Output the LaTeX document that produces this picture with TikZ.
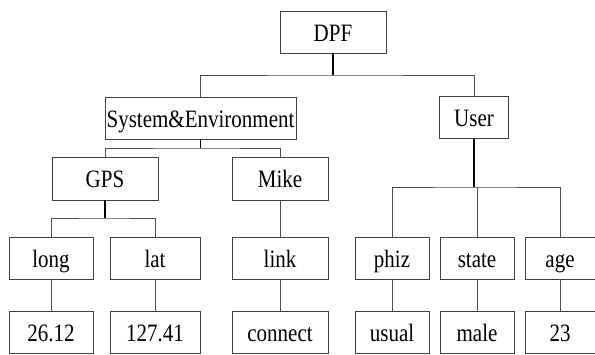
\documentclass[tikz,border=0pt]{standalone}
\usepackage{fontspec}
\setmainfont{Liberation Serif}
\newcommand{\sq}[1]{\scalebox{0.84}[1]{#1}}
\begin{document}
\begin{tikzpicture}[x=1pt,y=-1pt,
  box/.style={draw=black!75,line width=0.8pt,inner sep=0pt,rectangle,
    font=\fontsize{25}{29}\selectfont,text height=21pt,text depth=3pt,
    minimum height=42pt},
  conn/.style={draw=black!70,line width=0.9pt},
  stub/.style={draw=black,line width=1.4pt}]
\useasboundingbox (0,0) rectangle (595,354);
% nodes
\node[box,minimum width=106pt] (dpf) at (333,32) {\sq{DPF}};
\node[box,minimum width=191pt] (sys) at (200.5,118) {\sq{System\&Environment}};
\node[box,minimum width=69pt] (user) at (474,117.5) {\sq{User}};
\node[box,minimum width=106pt,minimum height=43pt] (gps) at (105,178.5) {\sq{GPS}};
\node[box,minimum width=96pt,minimum height=43pt] (mike) at (280,178.5) {\sq{Mike}};
\node[box,minimum width=84pt] (long) at (51,258) {\sq{long}};
\node[box,minimum width=90pt] (lat) at (155,258) {\sq{lat}};
\node[box,minimum width=96pt] (link) at (280,258) {\sq{link}};
\node[box,minimum width=74pt] (phiz) at (392,258) {\sq{phiz}};
\node[box,minimum width=74pt] (state) at (477,258) {\sq{state}};
\node[box,minimum width=70pt] (age) at (560,258) {\sq{age}};
\node[box,minimum width=84pt] (v1) at (51,332) {\sq{26.12}};
\node[box,minimum width=90pt] (v2) at (155,332) {\sq{127.41}};
\node[box,minimum width=96pt] (v3) at (280,332) {\sq{connect}};
\node[box,minimum width=74pt] (v4) at (392,332) {\sq{usual}};
\node[box,minimum width=74pt] (v5) at (477,332) {\sq{male}};
\node[box,minimum width=70pt] (v6) at (560,332) {\sq{23}};
% bus points
\coordinate (b1) at (333,75);
\coordinate (b2) at (200.5,148);
\coordinate (b3) at (105,218);
\coordinate (b4) at (474,187);
% connectors
\draw[conn] (sys.north) |- (b1) -| (user.north);
\draw[stub] (dpf.south) -- (b1);
\draw[conn] (gps.north) |- (b2) -| (mike.north);
\draw[stub] (sys.south) -- (b2);
\draw[conn] (long.north) |- (b3) -| (lat.north);
\draw[stub] (gps.south) -- (b3);
\draw[conn] (phiz.north) |- (b4) -| (age.north);
\draw[conn] (state.north) -- (state.north |- b4);
\draw[stub] (user.south) -- (b4);
\draw[conn] (mike) -- (link);
\draw[conn] (link) -- (v3);
\draw[conn] (long) -- (v1);
\draw[conn] (lat) -- (v2);
\draw[conn] (phiz) -- (v4);
\draw[conn] (state) -- (v5);
\draw[conn] (age) -- (v6);
\end{tikzpicture}
\end{document}
